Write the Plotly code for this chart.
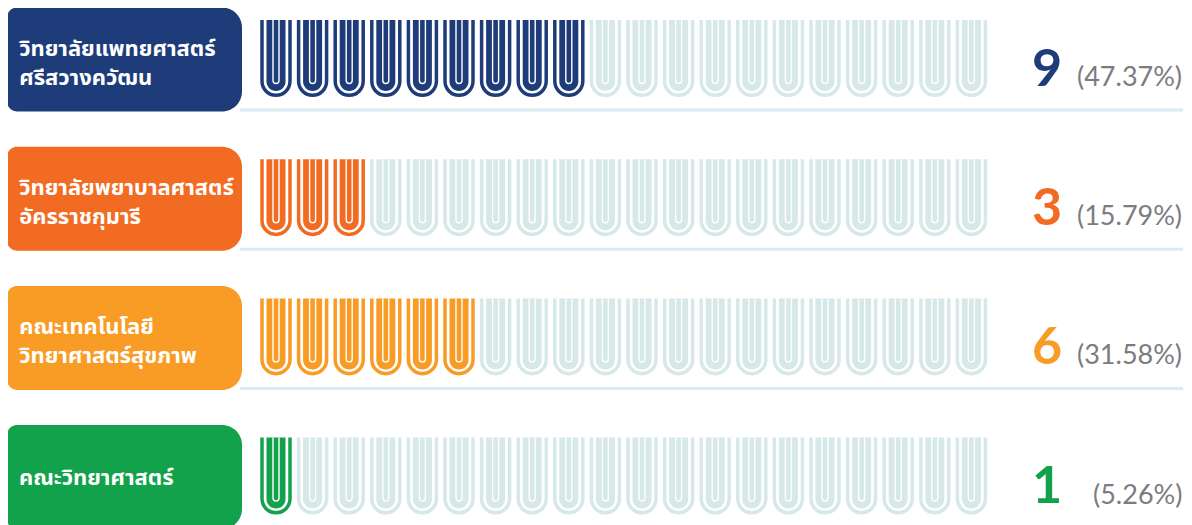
import plotly.graph_objects as go

# ---------------- data ----------------
labels = [
    ["วิทยาลัยแพทยศาสตร์", "ศรีสวางควัฒน"],
    ["วิทยาลัยพยาบาลศาสตร์", "อัครราชกุมารี"],
    ["คณะเทคโนโลยี", "วิทยาศาสตร์สุขภาพ"],
    ["คณะวิทยาศาสตร์"],
]
counts = [9, 3, 6, 1]
percents = ["(47.37%)", "(15.79%)", "(31.58%)", "(5.26%)"]
slots = 20
row_colors = ["#1f3c7a", "#f26b22", "#f89c25", "#12a24b"]
empty_color = "#d6e8e7"
rule_color = "#dceaf3"
pct_color = "#7b7c80"

# ------------- geometry helpers (pixel offsets, y downward) -------------
K = 0.5523


def u_path(r, top, bottom, closed=False):
    yc = bottom - r
    pts = [
        f"M {-r},{-top}",
        f"L {-r},{-yc}",
        f"C {-r},{-(yc + K * r)} {-K * r},{-bottom} 0,{-bottom}",
        f"C {K * r},{-bottom} {r},{-(yc + K * r)} {r},{-yc}",
        f"L {r},{-top}",
    ]
    if closed:
        pts.append("Z")
    return " ".join(pts)


def rrect_path(x0, x1, y0, y1, rl, rr):
    def p(x, y):
        return f"{x},{-y}"
    return " ".join([
        f"M {p(x0 + rl, y0)}",
        f"L {p(x1 - rr, y0)}",
        f"C {p(x1 - rr + K * rr, y0)} {p(x1, y0 + rr - K * rr)} {p(x1, y0 + rr)}",
        f"L {p(x1, y1 - rr)}",
        f"C {p(x1, y1 - rr + K * rr)} {p(x1 - rr + K * rr, y1)} {p(x1 - rr, y1)}",
        f"L {p(x0 + rl, y1)}",
        f"C {p(x0 + rl - K * rl, y1)} {p(x0, y1 - rl + K * rl)} {p(x0, y1 - rl)}",
        f"L {p(x0, y0 + rl)}",
        f"C {p(x0, y0 + rl - K * rl)} {p(x0 + rl - K * rl, y0)} {p(x0 + rl, y0)}",
        "Z",
    ])


# page body has an 8px margin: the figure is placed at (8, 8)
OFF = 8
PITCH = 36.6
X0PX = 276.0 - OFF      # centre of first icon
ROWPX = 139.2
Y0PX = 58.5 - OFF       # centre of first row
W, H = 1192 - OFF, 525 - OFF

outer_path = u_path(14, -38.5, 36.75)
inner_path = u_path(9.5, -38.5, 32.5, closed=True)
slot_path = u_path(3.0, -38.5, 25.0)
box_path = rrect_path(-269, -34, -51, 53, 10, 20)

shapes = []
annotations = []

for i, n in enumerate(counts):
    color = row_colors[i]
    shapes.append(dict(type="line", xref="x", yref="y", xsizemode="pixel", ysizemode="pixel",
                       xanchor=0, yanchor=i, x0=-36, x1=907, y0=-51.5, y1=-51.5,
                       line=dict(color=rule_color, width=3), layer="below"))
    shapes.append(dict(type="path", xref="x", yref="y", xsizemode="pixel", ysizemode="pixel",
                       xanchor=0, yanchor=i, path=box_path, fillcolor=color,
                       line=dict(width=0)))
    for j in range(slots):
        c = color if j < n else empty_color
        common = dict(type="path", xref="x", yref="y", xsizemode="pixel",
                      ysizemode="pixel", xanchor=j, yanchor=i)
        shapes.append(dict(common, path=outer_path, line=dict(color=c, width=3.5)))
        shapes.append(dict(common, path=inner_path, fillcolor=c, line=dict(width=0)))
        shapes.append(dict(common, path=slot_path, line=dict(color="white", width=1.4)))

    lines = labels[i]
    text = "<br>".join(f"<b>{t}</b>" for t in lines)
    off = 5 if len(lines) == 2 else 2
    annotations.append(dict(x=0, y=i, xref="x", yref="y", text=text,
                            showarrow=False, xanchor="left", yanchor="middle", align="left",
                            xshift=17 - 276, yshift=-off,
                            font=dict(family="Noto Sans Thai, Noto Sans, sans-serif",
                                      size=22, color="white")))
    annotations.append(dict(x=0, y=i, xref="x", yref="y", text=f"<b>{n}</b>",
                            showarrow=False, xanchor="right", yanchor="middle",
                            xshift=1064 - 276, yshift=-7,
                            font=dict(family="Lato, sans-serif", size=52, color=color)))
    annotations.append(dict(x=0, y=i, xref="x", yref="y", text=percents[i],
                            showarrow=False, xanchor="right", yanchor="middle",
                            xshift=1184 - 276, yshift=-17,
                            font=dict(family="Lato, sans-serif", size=27, color=pct_color)))

fig = go.Figure()
fig.add_trace(go.Scatter(x=[0], y=[0], mode="markers", marker=dict(opacity=0),
                         hoverinfo="skip", showlegend=False))
fig.update_layout(
    width=W, height=H,
    margin=dict(l=0, r=0, t=0, b=0),
    paper_bgcolor="white", plot_bgcolor="white",
    xaxis=dict(range=[-X0PX / PITCH, (W - X0PX) / PITCH], visible=False, fixedrange=True),
    yaxis=dict(range=[(H - Y0PX) / ROWPX, -Y0PX / ROWPX], visible=False, fixedrange=True),
    shapes=shapes,
    annotations=annotations,
    showlegend=False,
)
fig.write_html("out.html")
